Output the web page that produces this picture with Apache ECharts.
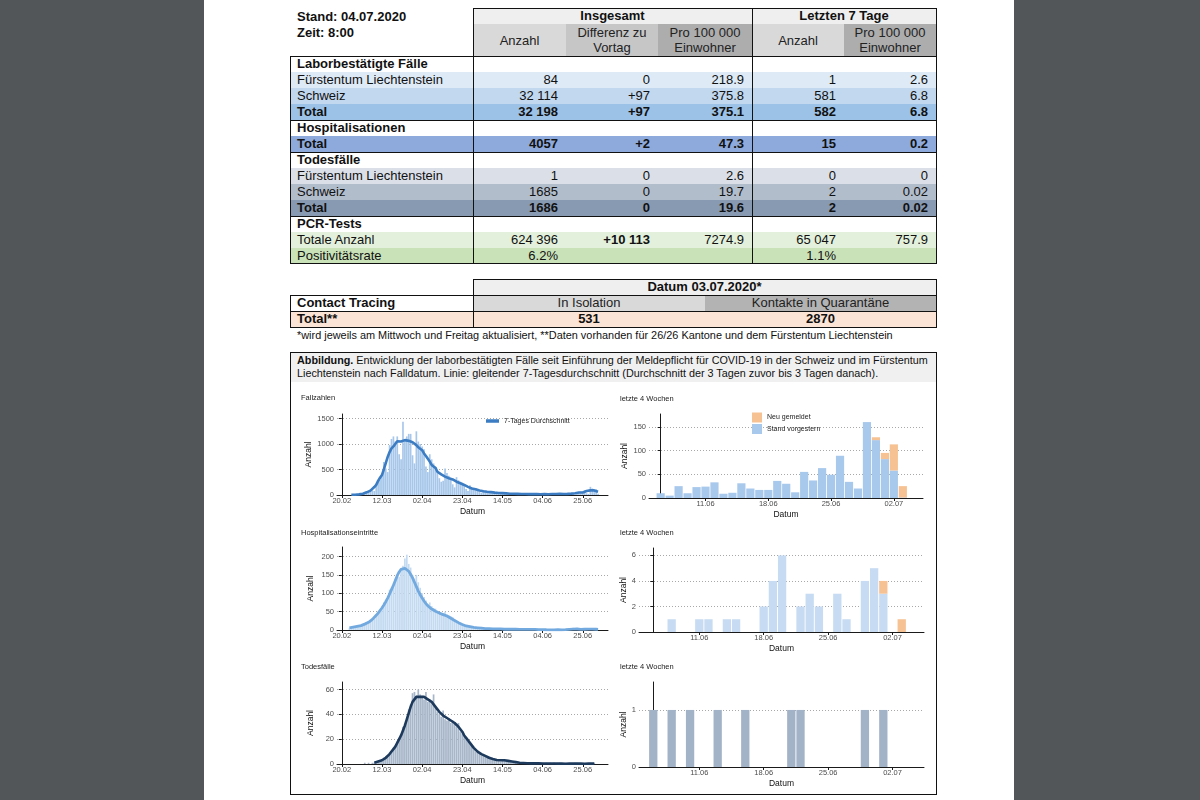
<!DOCTYPE html>
<html><head><meta charset="utf-8">
<script src="https://cdn.jsdelivr.net/npm/echarts@6/dist/echarts.min.js"></script>
<style>
html,body{margin:0;padding:0;width:1200px;height:800px;overflow:hidden;background:#525659;font-family:"Liberation Sans",Arial,sans-serif;}
#page{position:absolute;left:204px;top:0;width:810px;height:800px;background:#fff;}
#doc{position:absolute;left:0;top:0;width:1200px;height:800px;}
#chart{position:absolute;left:0;top:0;width:1200px;height:800px;}
</style></head><body>
<div id="page"></div>
<div id="doc"></div>
<div id="chart"></div>
<script>
// ---------------- DATA ----------------
const standText = 'Stand: 04.07.2020';
const zeitText = 'Zeit: 8:00';
const groupHeaders = ['Insgesamt', 'Letzten 7 Tage'];
const subHeaders = ['Anzahl', 'Differenz zu\nVortag', 'Pro 100 000\nEinwohner', 'Anzahl', 'Pro 100 000\nEinwohner'];
const tableRows = [
  { label: 'Laborbestätigte Fälle', head: true },
  { label: 'Fürstentum Liechtenstein', vals: ['84', '0', '218.9', '1', '2.6'], bg: '#deebf7' },
  { label: 'Schweiz', vals: ['32 114', '+97', '375.8', '581', '6.8'], bg: '#c2d8ef' },
  { label: 'Total', vals: ['32 198', '+97', '375.1', '582', '6.8'], bg: '#9cc2e7', bold: true, line: true },
  { label: 'Hospitalisationen', head: true },
  { label: 'Total', vals: ['4057', '+2', '47.3', '15', '0.2'], bg: '#8eaadc', bold: true, line: true },
  { label: 'Todesfälle', head: true },
  { label: 'Fürstentum Liechtenstein', vals: ['1', '0', '2.6', '0', '0'], bg: '#dbe0e8' },
  { label: 'Schweiz', vals: ['1685', '0', '19.7', '2', '0.02'], bg: '#b2bdcc' },
  { label: 'Total', vals: ['1686', '0', '19.6', '2', '0.02'], bg: '#8899b2', bold: true, line: true },
  { label: 'PCR-Tests', head: true },
  { label: 'Totale Anzahl', vals: ['624 396', '+10 113', '7274.9', '65 047', '757.9'], bg: '#e3f0db', boldCols: [1] },
  { label: 'Positivitätsrate', vals: ['6.2%', '', '', '1.1%', ''], bg: '#c9e2b8' }
];
const ctHeader = 'Datum 03.07.2020*';
const ctLabel = 'Contact Tracing';
const ctCols = ['In Isolation', 'Kontakte in Quarantäne'];
const ctTotalLabel = 'Total**';
const ctTotals = ['531', '2870'];
const footnote = '*wird jeweils am Mittwoch und Freitag aktualisiert, **Daten vorhanden für 26/26 Kantone und dem Fürstentum Liechtenstein';
const captionBold = 'Abbildung.';
const captionLine1 = ' Entwicklung der laborbestätigten Fälle seit Einführung der Meldepflicht für COVID-19 in der Schweiz und im Fürstentum';
const captionLine2 = 'Liechtenstein nach Falldatum. Linie: gleitender 7-Tagesdurchschnitt (Durchschnitt der 3 Tagen zuvor bis 3 Tagen danach).';

const panelTitles = ['Fallzahlen', 'letzte 4 Wochen', 'Hospitalisationseintritte', 'letzte 4 Wochen', 'Todesfälle', 'letzte 4 Wochen'];
// left panels: x = days since 20.02.2020
const leftTickDays = [0, 21, 42, 63, 84, 105, 126];
const leftTickLabels = ['20.02', '12.03', '02.04', '23.04', '14.05', '04.06', '25.06'];
// right panels: x = days since 06.06.2020
const rightTickIdx = [5, 12, 19, 26];
const rightTickLabels = ['11.06', '18.06', '25.06', '02.07'];

// Daily cases from 24.02 (day 4)
const casesStartDay = 4;
const casesDaily = [
  0, 1, 2, 6, 10, 9,
  12, 18, 25, 40, 70, 110, 90,
  80, 190, 250, 300, 380, 650, 520,
  450, 980, 1100, 1150, 1050, 1150, 800,
  700, 1440, 1050, 1150, 1200, 1200, 780,
  620, 1250, 1050, 1000, 950, 900, 560,
  450, 800, 700, 620, 560, 450, 330,
  260, 280, 520, 430, 380, 330, 210,
  150, 350, 290, 260, 240, 200, 120,
  80, 190, 150, 130, 120, 100, 60,
  40, 100, 80, 70, 65, 55, 35,
  25, 60, 45, 40, 40, 35, 20,
  15, 35, 30, 30, 20, 25, 15,
  10, 25, 20, 20, 18, 22, 12,
  8, 12, 25, 20, 18, 20,
  10, 5, 25, 10, 23, 24, 33, 9, 11, 31, 20, 17, 17, 36, 30, 12, 55, 37, 63, 49, 89, 34, 20, 160, 128, 95, 113, 25
];
// 7-day average of cases from 25.02 (day 5)
const casesAvgStartDay = 5;
const casesAvg = [
  4, 5, 6, 8, 12,
  17, 26, 41, 52, 62, 86, 119, 156, 200, 277, 339, 391, 504, 626, 747, 843, 914, 954, 990, 1056, 1049, 1049, 1070, 1077, 1074, 1063, 1036, 1036, 1014, 979, 936,
  904, 880, 816, 766, 711, 656, 591, 559, 531, 457, 431, 404, 379, 361, 344, 329, 339, 306, 281, 261, 243, 230, 220, 197, 177, 159, 141, 127, 119, 113,
  100, 90, 81, 74, 67, 64, 61, 56, 51, 46, 43, 40, 38, 36, 33, 31, 29, 26, 25, 24, 24, 22, 21, 19, 19, 19, 18, 18, 16, 17, 17,
  17, 16, 16, 16, 18, 15, 16, 17, 19, 18, 19, 20, 22, 21, 20, 20, 23, 23, 27, 29, 36, 40, 48, 48, 50, 65, 78, 82, 91, 82,
  90, 80, 65
];

// Daily hospitalisations from 24.02 (day 4)
const hospStartDay = 4;
const hospDaily = [
  5, 6, 8, 8, 9, 10,
  10, 12, 14, 15, 18, 22, 25,
  30, 38, 45, 55, 62, 75, 80,
  85, 110, 115, 125, 140, 150, 145,
  160, 175, 195, 205, 180, 170, 150,
  140, 150, 130, 115, 100, 90, 80,
  70, 75, 65, 60, 58, 50, 45,
  42, 45, 50, 42, 40, 38, 35,
  25, 24, 20, 18, 15, 12, 10,
  9, 10, 8, 7, 6, 5, 5,
  5, 6, 5, 5, 4, 4, 3,
  3, 4, 3, 3, 2, 3, 2,
  2, 2, 3, 2, 2, 1, 1,
  1, 2, 2, 1, 2, 1, 1,
  1, 1, 2, 1, 1, 1,
  0, 0, 1, 0, 0, 1, 1, 0, 1, 1, 0, 0, 2, 4, 6, 0, 2, 3, 2, 0, 3, 1, 0, 4, 5, 4, 0, 1
];
const hospAvgStartDay = 4;
const hospAvg = [
  6, 7, 8, 9, 10, 11,
  12, 14, 16, 18, 21, 25, 29,
  34, 40, 46, 53, 60, 68, 77,
  87, 98, 110, 122, 135, 148, 158,
  165, 168, 168, 165, 160, 152, 142,
  130, 118, 106, 96, 87, 79, 72,
  66, 61, 57, 54, 51, 48, 46,
  44, 42, 40, 38, 35, 32, 29,
  26, 23, 20, 17, 15, 13, 11,
  10, 9, 8, 7, 6, 6, 5,
  5, 5, 4, 4, 4, 3, 3,
  3, 3, 3, 3, 3, 2, 2,
  2, 2, 2, 2, 2, 2, 1.5,
  1.5, 1.5, 1.5, 1.5, 1.5, 1.5, 1.5,
  1.5, 1.3, 1.2, 1, 1, 1,
  0.7, 0.6, 0.6, 0.6, 0.6, 0.6, 0.7, 0.7, 0.6, 0.6, 1, 1.4, 1.9, 2.1, 2.4, 2.6, 2.7, 2.3, 1.6, 1.6, 2, 2, 2.3, 2.4, 2.6, 2.3, 2, 1.5
];

// Daily deaths from 03.03 (day 12)
const deathsStartDay = 12;
const deathsDaily = [
  1, 0, 1, 0, 1,
  1, 2, 2, 3, 3, 5, 6,
  7, 9, 10, 13, 15, 18, 21,
  22, 30, 32, 38, 44, 48, 57,
  58, 55, 60, 56, 55, 52, 58,
  50, 52, 48, 56, 45, 42, 40,
  38, 43, 36, 35, 37, 33, 35,
  34, 30, 33, 26, 24, 22, 20,
  18, 16, 14, 12, 10, 9, 8,
  7, 8, 6, 5, 6, 4, 4,
  3, 4, 3, 2, 4, 3, 2,
  3, 2, 2, 1, 2, 1, 1,
  1, 1, 0, 1, 0, 1, 0,
  1, 0, 1, 0, 1, 0,
  1, 0, 1, 0, 1, 0, 0, 1, 0, 0, 1, 0, 0, 0, 0, 1, 1, 0, 0, 0, 0, 0, 0, 1, 0, 1, 0, 0
];
// 7-day average deaths from 08.03 (day 17)
const deathsAvgStartDay = 17;
const deathsAvg = [
  1, 1.5, 2, 2.5, 3, 4, 5,
  6.5, 8, 10, 12, 14, 17, 20,
  23, 27, 31, 36, 41, 46, 50,
  52, 54, 54, 54, 54, 54, 53,
  52, 51, 50, 48, 46, 44, 42,
  41, 39, 38, 37, 36, 35, 34,
  33, 32, 30, 28, 26, 23, 21,
  19, 17, 15, 13, 11.5, 10, 9,
  8, 7, 6.5, 6, 5, 4.5, 4,
  3.5, 3.2, 3, 3, 3, 3, 2.8,
  2.5, 2.2, 2, 1.8, 1.5, 1.2, 1,
  1, 0.8, 0.7, 0.6, 0.5, 0.5, 0.5,
  0.5, 0.5, 0.5, 0.5, 0.4, 0.4, 0.4,
  0.4, 0.4, 0.4, 0.4, 0.3, 0.3, 0.3,
  0.3, 0.3, 0.2, 0.2, 0.3, 0.3, 0.3,
  0.3, 0.3, 0.3, 0.3, 0.3, 0.2, 0.2,
  0.3, 0.3, 0.3, 0.3
];

// Last 4 weeks (06.06 - 03.07)
const recentCasesOld = [10, 5, 25, 10, 23, 24, 33, 9, 11, 31, 20, 17, 17, 36, 30, 12, 55, 37, 63, 49, 89, 34, 20, 160, 122, 82, 58, 1];
const recentCasesNew = [0, 0, 0, 0, 0, 0, 0, 0, 0, 0, 0, 0, 0, 0, 0, 0, 0, 0, 0, 0, 0, 0, 0, 0, 6, 13, 55, 24];
const recentHospOld = [0, 0, 1, 0, 0, 1, 1, 0, 1, 1, 0, 0, 2, 4, 6, 0, 2, 3, 2, 0, 3, 1, 0, 4, 5, 3, 0, 0];
const recentHospNew = [0, 0, 0, 0, 0, 0, 0, 0, 0, 0, 0, 0, 0, 0, 0, 0, 0, 0, 0, 0, 0, 0, 0, 0, 0, 1, 0, 1];
const recentDeaths = [1, 0, 1, 0, 1, 0, 0, 1, 0, 0, 1, 0, 0, 0, 0, 1, 1, 0, 0, 0, 0, 0, 0, 1, 0, 1, 0, 0];

const legendAvg = '7-Tages Durchschnitt';
const legendNew = 'Neu gemeldet';
const legendOld = 'Stand vorgestern';

// ---------------- DOCUMENT (tables) ----------------
const FONT = '"Liberation Sans", Arial, sans-serif';
const doc = document.getElementById('doc');
function el(x, y, w, h, css, text) {
  const d = document.createElement('div');
  d.style.cssText = `position:absolute;left:${x}px;top:${y}px;width:${w}px;height:${h}px;box-sizing:border-box;` + css;
  if (text !== undefined) d.textContent = text;
  doc.appendChild(d);
  return d;
}
function cell(x, y, w, h, text, o = {}) {
  const just = o.align === 'right' ? 'flex-end' : (o.align === 'center' ? 'center' : 'flex-start');
  return el(x, y, w, h,
    `display:flex;align-items:center;justify-content:${just};text-align:${o.align || 'left'};` +
    `padding:0 ${o.pr || 0}px 0 ${o.pl || 0}px;background:${o.bg || 'transparent'};` +
    `font-weight:${o.bold ? 'bold' : 'normal'};font-size:${o.fs || 13}px;line-height:${o.lh || 16}px;white-space:pre;color:${o.color || '#111'};`,
    text);
}
function hl(x1, x2, y) { el(x1, y, x2 - x1 + 1, 1, 'background:#111;'); }
function vl(x, y1, y2) { el(x, y1, 1, y2 - y1 + 1, 'background:#111;'); }

const colX = [290, 473, 566, 658, 752, 844, 936];
cell(297, 9, 170, 16, standText, { bold: true });
cell(297, 25, 170, 16, zeitText, { bold: true });
cell(473, 8, 279, 16, groupHeaders[0], { bold: true, align: 'center', bg: '#efefef' });
cell(752, 8, 184, 16, groupHeaders[1], { bold: true, align: 'center', bg: '#efefef' });
const subBg = ['#d9d9d9', '#c6c6c6', '#adadad', '#d9d9d9', '#adadad'];
subHeaders.forEach((t, i) => cell(colX[i + 1], 24, colX[i + 2] - colX[i + 1], 32, t, { align: 'center', bg: subBg[i], lh: 15, color: '#222' }));
tableRows.forEach((r, i) => {
  const y = 56 + 16 * i;
  cell(290, y, 183, 16, r.label, { bold: r.head || r.bold, pl: 7, bg: r.bg });
  for (let c = 0; c < 5; c++) {
    const v = r.vals ? r.vals[c] : '';
    cell(colX[c + 1], y, colX[c + 2] - colX[c + 1], 16, v, { align: 'right', pr: 8, bg: r.bg, bold: r.bold || (r.boldCols && r.boldCols.includes(c)) });
  }
});
hl(473, 936, 8);
vl(473, 8, 263); vl(752, 8, 263); vl(936, 8, 263); vl(290, 56, 263);
hl(290, 936, 56);
tableRows.forEach((r, i) => { if (r.line) hl(290, 936, 56 + 16 * (i + 1)); });
hl(290, 936, 263);

cell(473, 279, 463, 16, ctHeader, { bold: true, align: 'center', bg: '#efefef' });
cell(290, 295, 183, 16, ctLabel, { bold: true, pl: 7 });
cell(473, 295, 232, 16, ctCols[0], { align: 'center', bg: '#d9d9d9', color: '#222' });
cell(705, 295, 231, 16, ctCols[1], { align: 'center', bg: '#b3b3b3', color: '#222' });
cell(290, 311, 183, 16, ctTotalLabel, { bold: true, pl: 7, bg: '#fbe4d5' });
cell(473, 311, 232, 16, ctTotals[0], { bold: true, align: 'center', bg: '#fbe4d5' });
cell(705, 311, 231, 16, ctTotals[1], { bold: true, align: 'center', bg: '#fbe4d5' });
hl(473, 936, 279); vl(473, 279, 327); vl(936, 279, 327); vl(290, 295, 327);
hl(290, 936, 295); hl(290, 936, 311); hl(290, 936, 327);
cell(297, 328, 640, 14, footnote, { fs: 10.9, lh: 14 });

el(290, 352, 647, 443, 'border:1px solid #111;');
const cap = el(291, 353, 645, 29, `background:#f0f0f0;font-size:10.8px;line-height:13px;padding:1px 0 0 6px;white-space:nowrap;color:#111;`);
const b = document.createElement('b'); b.textContent = captionBold; cap.appendChild(b);
cap.appendChild(document.createTextNode(captionLine1));
cap.appendChild(document.createElement('br'));
cap.appendChild(document.createTextNode(captionLine2));

// ---------------- CHARTS ----------------
const chart = echarts.init(document.getElementById('chart'), null, { renderer: 'canvas' });
const panels = [
  { grid: { left: 337, top: 414, width: 271, height: 81 }, side: 'L', ymax: 1590, yticks: [0, 500, 1000, 1500], nameGap: 22, titleY: 398 },
  { grid: { left: 649, top: 414, width: 274, height: 84 }, side: 'R1', ymax: 177, yticks: [0, 50, 100, 150], nameGap: 16, titleY: 399 },
  { grid: { left: 337, top: 547, width: 271, height: 83 }, side: 'L', ymax: 226, yticks: [0, 50, 100, 150, 200], nameGap: 22, titleY: 532.5 },
  { grid: { left: 639, top: 548, width: 285, height: 84 }, side: 'R', ymax: 6.58, yticks: [0, 2, 4, 6], nameGap: 8, titleY: 532.5 },
  { grid: { left: 337, top: 682, width: 271, height: 82 }, side: 'L', ymax: 66, yticks: [0, 20, 40, 60], nameGap: 22, titleY: 666.5 },
  { grid: { left: 639, top: 682, width: 285, height: 85 }, side: 'R', ymax: 1.49, yticks: [0, 1], nameGap: 8, titleY: 666.5 }
];
const axisCol = '#1a1a1a';
const tickTxt = { fontSize: 7.5, color: '#4d4d4d', fontFamily: FONT };
const grids = [], xAxes = [], yAxes = [], titles = [];
panels.forEach((p, gi) => {
  grids.push(Object.assign({ containLabel: false }, p.grid));
  const isL = p.side === 'L';
  const tv = isL ? leftTickDays : rightTickIdx;
  const tl = isL ? leftTickLabels : rightTickLabels;
  xAxes.push({
    type: 'value', gridIndex: gi,
    min: isL ? -2.5 : (p.side === 'R1' ? -1.3 : -1.55),
    max: isL ? 139.2 : (p.side === 'R1' ? 29.25 : 29.42),
    axisLine: { show: true, onZero: false, lineStyle: { color: axisCol, width: 1 } },
    axisTick: { show: true, length: 3, customValues: tv, lineStyle: { color: axisCol, width: 1 } },
    axisLabel: Object.assign({ customValues: tv, margin: 2, formatter: v => tl[tv.indexOf(v)] }, tickTxt),
    splitLine: { show: false },
    name: 'Datum', nameLocation: 'middle', nameGap: 12,
    nameTextStyle: { fontSize: 8.5, color: '#111', fontFamily: FONT }
  });
  yAxes.push({
    type: 'value', gridIndex: gi, min: 0, max: p.ymax,
    axisLine: { show: true, lineStyle: { color: axisCol, width: 1 } },
    axisTick: { show: true, length: 3, customValues: p.yticks, lineStyle: { color: axisCol, width: 1 } },
    axisLabel: Object.assign({ customValues: p.yticks, margin: 3, formatter: v => String(v) }, tickTxt),
    splitLine: { show: true, lineStyle: { type: [1, 2], color: '#a8a8a8', width: 1 } },
    name: 'Anzahl', nameLocation: 'middle', nameGap: p.nameGap, nameRotate: 90,
    nameTextStyle: { fontSize: 8.5, color: '#111', fontFamily: FONT }
  });
  titles.push({
    text: panelTitles[gi], left: isL ? 301 : 620, top: p.titleY - 5, padding: 0,
    textStyle: { fontSize: 7.5, fontWeight: 'normal', color: '#222', lineHeight: 10, fontFamily: FONT }
  });
});

const pairs = (arr, start) => arr.map((v, i) => [start + i, v]);
// for stacked bars: value first, so the value dimension is the stacked one
const pairsYX = (arr, start) => arr.map((v, i) => [v, start + i]);
const encYX = { x: 1, y: 0 };
const series = [
  { type: 'bar', xAxisIndex: 0, yAxisIndex: 0, barWidth: 1.7, data: pairs(casesDaily, casesStartDay), itemStyle: { color: '#a7c7ea' }, silent: true },
  { type: 'line', name: legendAvg, xAxisIndex: 0, yAxisIndex: 0, data: pairs(casesAvg, casesAvgStartDay), showSymbol: false, symbol: 'none', lineStyle: { color: '#3b7cc2', width: 2.6 }, itemStyle: { color: '#3b7cc2' }, z: 3 },
  { type: 'bar', name: legendOld, stack: 'r1', xAxisIndex: 1, yAxisIndex: 1, barWidth: 8.2, encode: encYX, data: pairsYX(recentCasesOld, 0), itemStyle: { color: '#a9c9ec' } },
  { type: 'bar', name: legendNew, stack: 'r1', xAxisIndex: 1, yAxisIndex: 1, barWidth: 8.2, encode: encYX, data: pairsYX(recentCasesNew, 0), itemStyle: { color: '#f6c293' } },
  { type: 'bar', xAxisIndex: 2, yAxisIndex: 2, barWidth: 1.7, data: pairs(hospDaily, hospStartDay), itemStyle: { color: '#c3daf1' }, silent: true },
  { type: 'line', name: 'avgH', xAxisIndex: 2, yAxisIndex: 2, data: pairs(hospAvg, hospAvgStartDay), showSymbol: false, symbol: 'none', lineStyle: { color: '#72a9de', width: 2.8 }, itemStyle: { color: '#72a9de' }, z: 3 },
  { type: 'bar', name: 'oldH', stack: 'r2', xAxisIndex: 3, yAxisIndex: 3, barWidth: 8.3, encode: encYX, data: pairsYX(recentHospOld, 0), itemStyle: { color: '#c7dcf2' } },
  { type: 'bar', name: 'newH', stack: 'r2', xAxisIndex: 3, yAxisIndex: 3, barWidth: 8.3, encode: encYX, data: pairsYX(recentHospNew, 0), itemStyle: { color: '#f6c293' } },
  { type: 'bar', xAxisIndex: 4, yAxisIndex: 4, barWidth: 1.7, data: pairs(deathsDaily, deathsStartDay), itemStyle: { color: '#a7b6c9' }, silent: true },
  { type: 'line', name: 'avgD', xAxisIndex: 4, yAxisIndex: 4, data: pairs(deathsAvg, deathsAvgStartDay), showSymbol: false, symbol: 'none', lineStyle: { color: '#1d3a5d', width: 2.6 }, itemStyle: { color: '#1d3a5d' }, z: 3 },
  { type: 'bar', name: 'oldD', xAxisIndex: 5, yAxisIndex: 5, barWidth: 8.3, data: pairs(recentDeaths, 0), itemStyle: { color: '#a2b2c7' } }
];

chart.setOption({
  animation: false,
  textStyle: { fontFamily: FONT },
  title: titles,
  grid: grids,
  xAxis: xAxes,
  yAxis: yAxes,
  legend: [
    { data: [legendAvg], left: 486, top: 417.5, padding: 0, icon: 'rect', itemWidth: 13, itemHeight: 3.5, itemGap: 4,
      textStyle: { fontSize: 7, color: '#222', fontFamily: FONT }, selectedMode: false },
    { data: [legendNew, legendOld], orient: 'vertical', left: 752, top: 412.5, padding: 0, icon: 'rect', itemWidth: 10, itemHeight: 10, itemGap: 1.5,
      textStyle: { fontSize: 7, color: '#222', fontFamily: FONT }, selectedMode: false }
  ],
  series: series
});
</script>
</body></html>
